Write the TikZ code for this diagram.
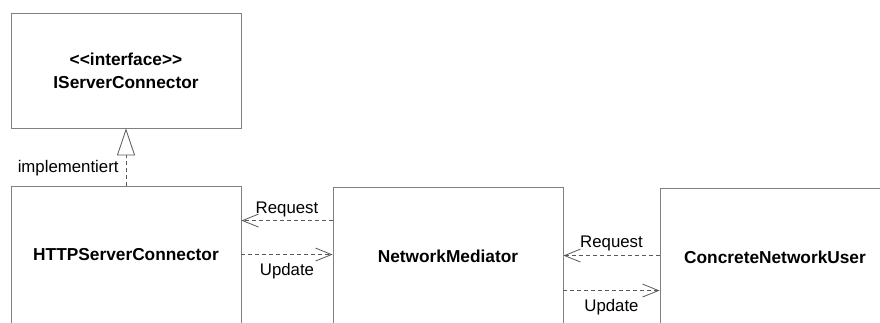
\documentclass[tikz,border=0pt]{standalone}
\usepackage{fontspec}
\setmainfont{Liberation Sans}
\usetikzlibrary{arrows.meta,calc}

\begin{document}
\begin{tikzpicture}[x=1pt,y=-1pt,
  classbox/.style={draw=black!50, line width=0.9pt, fill=white, minimum width=230pt,
    inner sep=0pt, font=\fontsize{17.3}{23}\selectfont\bfseries, align=center},
  dep/.style={draw=black!65, line width=0.8pt, dash pattern=on 4pt off 3pt,
    -{Straight Barb[length=16pt,width=13pt,line width=0.8pt]}},
  real/.style={draw=black!65, line width=0.8pt, dash pattern=on 4pt off 3pt,
    -{Triangle[open,length=27pt,width=18pt,line width=0.8pt,fill=white]}},
  lbl/.style={font=\fontsize{16.8}{20}\selectfont, inner sep=1pt}]
  \useasboundingbox (0,0) rectangle (880,322);
  \clip (0,0) rectangle (880,322);

  % class boxes (lower edges run past the frame)
  \node[classbox, minimum height=115pt] (iface) at (126,70.5)
    {{<}{<}interface{>}{>}\\IServerConnector};
  \node[classbox, minimum height=138pt] (http) at (126,255) {HTTPServerConnector};
  \node[classbox, minimum height=138pt] (nm) at (448,256) {NetworkMediator};
  \node[classbox, minimum height=138pt] (user) at (775,257) {ConcreteNetworkUser};

  % realization of the interface
  \draw[real] (http.north) -- (iface.south)
    node[lbl, pos=0.3, left=6pt] {implementiert};

  % HTTPServerConnector <-> NetworkMediator
  \draw[dep] ([yshift=-34pt]nm.north west) coordinate (r1) -- (r1 -| http.east)
    node[lbl, midway, above=2pt] {Request};
  \draw[dep] ([yshift=-69pt]http.north east) coordinate (u1) -- (u1 -| nm.west)
    node[lbl, midway, below=7pt] {Update};

  % NetworkMediator <-> ConcreteNetworkUser
  \draw[dep] ([yshift=-68pt]user.north west) coordinate (r2) -- (r2 -| nm.east)
    node[lbl, midway, above=3pt] {Request};
  \draw[dep] ([yshift=-104pt]nm.north east) coordinate (u2) -- (u2 -| user.west)
    node[lbl, midway, below=7pt] {Update};
\end{tikzpicture}
\end{document}
